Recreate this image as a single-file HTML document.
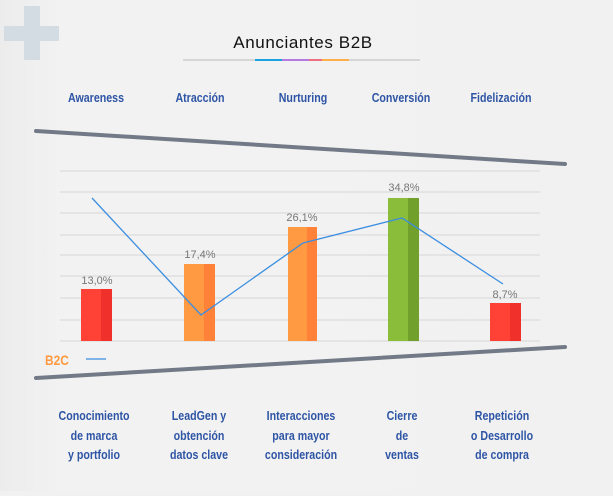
<!DOCTYPE html>
<html><head><style>
body{margin:0;width:613px;height:491px;overflow:hidden;background:#f1f1f1;font-family:"Liberation Sans",sans-serif}
.n{font-family:"Liberation Sans",sans-serif;font-weight:bold}
</style></head><body>
<svg width="613" height="491" viewBox="0 0 613 491" xmlns="http://www.w3.org/2000/svg">
<defs><linearGradient id="bg" x1="0" x2="1"><stop offset="0" stop-color="#ececec"/><stop offset="0.1" stop-color="#f2f2f2"/><stop offset="1" stop-color="#f1f1f1"/></linearGradient></defs>
<rect width="613" height="491" fill="url(#bg)"/>
<rect x="24" y="6" width="16" height="54" fill="#d3dce2"/>
<rect x="4" y="26" width="55" height="15" fill="#d3dce2"/>
<text x="303" y="48" font-size="17" letter-spacing="0.6" text-anchor="middle" fill="#111">Anunciantes B2B</text>
<line x1="183" y1="60" x2="420" y2="60" stroke="#bbb" stroke-width="1"/>
<rect x="255" y="59" width="27" height="2" fill="#1aa3e0"/>
<rect x="282" y="59" width="27" height="2" fill="#b37be0"/>
<rect x="309" y="59" width="13" height="2" fill="#ee6f7f"/>
<rect x="322" y="59" width="27" height="2" fill="#fdb04a"/>
<g class="n" font-size="13" fill="#2e55a5" text-anchor="middle">
<g transform="translate(96,0) scale(0.82,1)"><text x="0" y="102">Awareness</text></g>
<g transform="translate(200,0) scale(0.82,1)"><text x="0" y="102">Atracción</text></g>
<g transform="translate(303,0) scale(0.82,1)"><text x="0" y="102">Nurturing</text></g>
<g transform="translate(401,0) scale(0.82,1)"><text x="0" y="102">Conversión</text></g>
<g transform="translate(501,0) scale(0.82,1)"><text x="0" y="102">Fidelización</text></g>
</g>
<g stroke="#d6d6d6" stroke-width="1">
<line x1="60" y1="171" x2="540" y2="171"/><line x1="60" y1="192" x2="540" y2="192"/><line x1="60" y1="213" x2="540" y2="213"/><line x1="60" y1="235" x2="540" y2="235"/><line x1="60" y1="255" x2="540" y2="255"/><line x1="60" y1="276" x2="540" y2="276"/><line x1="60" y1="298" x2="540" y2="298"/><line x1="60" y1="320" x2="540" y2="320"/><line x1="60" y1="341" x2="540" y2="341"/>
</g>
<line x1="36" y1="131" x2="565" y2="164" stroke="#727a87" stroke-width="4" stroke-linecap="round"/>
<line x1="36" y1="378" x2="565" y2="347" stroke="#727a87" stroke-width="4" stroke-linecap="round"/>
<rect x="81" y="289" width="20" height="52" fill="#ff4235"/><rect x="101" y="289" width="11" height="52" fill="#f0302a"/>
<rect x="184" y="264" width="20" height="77" fill="#ff9a42"/><rect x="204" y="264" width="11" height="77" fill="#ff8238"/>
<rect x="288" y="227" width="19" height="114" fill="#ff9a42"/><rect x="307" y="227" width="10" height="114" fill="#ff8238"/>
<rect x="388" y="198" width="20" height="143" fill="#8abd3a"/><rect x="408" y="198" width="11" height="143" fill="#72a02c"/>
<rect x="490" y="303" width="20" height="38" fill="#ff4235"/><rect x="510" y="303" width="11" height="38" fill="#f0302a"/>
<g font-size="11" fill="#777" text-anchor="middle">
<text x="97" y="284">13,0%</text><text x="200" y="258">17,4%</text><text x="302" y="221">26,1%</text><text x="404" y="191">34,8%</text><text x="505" y="298">8,7%</text>
</g>
<polyline points="92,198 201,315 303,243 402,218 503,284" fill="none" stroke="#3b8ee0" stroke-width="1.3"/>
<g transform="translate(45,0) scale(0.85,1)"><text class="n" x="0" y="365" font-size="14" fill="#ff9a42">B2C</text></g>
<line x1="86" y1="359" x2="106" y2="359" stroke="#3b8ee0" stroke-width="1.3"/>
<g class="n" font-size="13" fill="#2e55a5" text-anchor="middle">
<g transform="translate(94,0) scale(0.82,1)"><text x="0" y="420">Conocimiento</text><text x="0" y="440">de marca</text><text x="0" y="459">y portfolio</text></g>
<g transform="translate(199,0) scale(0.82,1)"><text x="0" y="420">LeadGen y</text><text x="0" y="440">obtención</text><text x="0" y="459">datos clave</text></g>
<g transform="translate(301,0) scale(0.82,1)"><text x="0" y="420">Interacciones</text><text x="0" y="440">para mayor</text><text x="0" y="459">consideración</text></g>
<g transform="translate(402,0) scale(0.82,1)"><text x="0" y="420">Cierre</text><text x="0" y="440">de</text><text x="0" y="459">ventas</text></g>
<g transform="translate(502,0) scale(0.82,1)"><text x="0" y="420">Repetición</text><text x="0" y="440">o Desarrollo</text><text x="0" y="459">de compra</text></g>
</g>
</svg>
</body></html>
